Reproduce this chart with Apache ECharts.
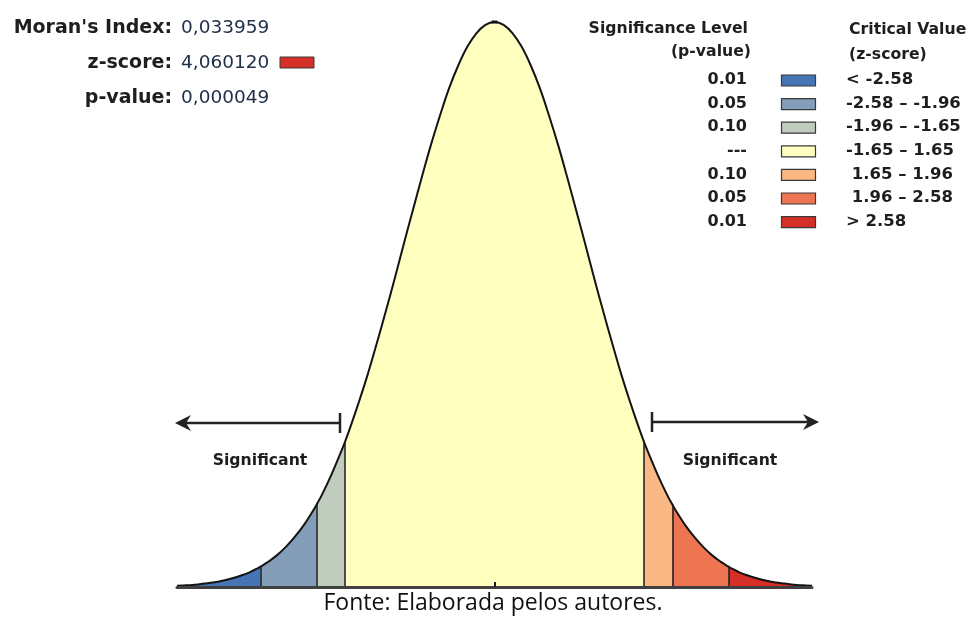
<!DOCTYPE html>
<html><head><meta charset="utf-8">
<script src="https://cdn.jsdelivr.net/npm/echarts@6/dist/echarts.min.js"></script>
<style>html,body{margin:0;padding:0;background:#fff}#c{width:971px;height:617px}</style>
</head><body><div id="c"></div>
<script>
// z positions along the curve and curve heights (relative to peak)
const zValues = [-3.5,-3.4,-3.3,-3.2,-3.1,-3.0,-2.9,-2.8,-2.7,-2.6,-2.5,-2.4,-2.3,-2.2,-2.1,-2.0,-1.9,-1.8,-1.7,-1.6,-1.5,-1.4,-1.3,-1.2,-1.1,-1.0,-0.9,-0.8,-0.7,-0.6,-0.5,-0.4,-0.3,-0.2,-0.1,0,0.1,0.2,0.3,0.4,0.5,0.6,0.7,0.8,0.9,1.0,1.1,1.2,1.3,1.4,1.5,1.6,1.7,1.8,1.9,2.0,2.1,2.2,2.3,2.4,2.5,2.6,2.7,2.8,2.9,3.0,3.1,3.2,3.3,3.4,3.5];
const heights = [0.002,0.003,0.004,0.006,0.008,0.011,0.015,0.020,0.026,0.034,0.044,0.056,0.071,0.089,0.110,0.135,0.164,0.198,0.236,0.278,0.325,0.375,0.430,0.487,0.546,0.607,0.667,0.726,0.783,0.835,0.883,0.923,0.956,0.980,0.995,1.000,0.995,0.980,0.956,0.923,0.883,0.835,0.783,0.726,0.667,0.607,0.546,0.487,0.430,0.375,0.325,0.278,0.236,0.198,0.164,0.135,0.110,0.089,0.071,0.056,0.044,0.034,0.026,0.020,0.015,0.011,0.008,0.006,0.004,0.003,0.002];
const boundaries = [-2.58,-1.96,-1.65,1.65,1.96,2.58];
const boundaryHeights = [0.036,0.146,0.256,0.256,0.146,0.036];
const segmentColors = ['#4575b5','#849eba','#c0ccbe','#ffffbf','#fab984','#ed7551','#d62f27'];
const pLevels = ['0.01','0.05','0.10','---','0.10','0.05','0.01'];
const zRanges = ['< -2.58','-2.58 \u2013 -1.96','-1.96 \u2013 -1.65','-1.65 \u2013 1.65',' 1.65 \u2013 1.96',' 1.96 \u2013 2.58','> 2.58'];
const statLabels = ["Moran's Index:", 'z-score:', 'p-value:'];
const statValues = ['0,033959', '4,060120', '0,000049'];
const zScoreColor = '#d62f27';

const chart = echarts.init(document.getElementById('c'));

const allPts = zValues.map((z, i) => [z, heights[i]])
  .concat(boundaries.map((z, i) => [z, boundaryHeights[i]]))
  .sort((a, b) => a[0] - b[0]);
const edges = [zValues[0]].concat(boundaries, [zValues[zValues.length - 1]]);
const series = [];
for (let s = 0; s < edges.length - 1; s++) {
  const a = edges[s], b = edges[s + 1];
  const pts = allPts.filter(p => p[0] >= a - 1e-9 && p[0] <= b + 1e-9);
  series.push({
    type: 'line', data: pts, symbol: 'none', silent: true, z: 2, smooth: 0.4,
    lineStyle: { width: 0 },
    areaStyle: { color: segmentColors[s], opacity: 1 }
  });
}
series.push({
  type: 'line', data: [], symbol: 'none', silent: true, z: 3,
  markLine: {
    silent: true, symbol: 'none', label: { show: false },
    lineStyle: { color: '#1a1a1a', width: 1.5, type: 'solid' },
    data: boundaries.map((z, i) => [{ coord: [z, 0] }, { coord: [z, boundaryHeights[i]] }])
  }
});
series.push({
  type: 'line', data: allPts, symbol: 'none', silent: true, z: 4, smooth: 0.4,
  lineStyle: { color: '#141414', width: 2 },
  markPoint: {
    silent: true, symbol: 'rect', symbolSize: [6, 3], symbolOffset: [0, 0],
    itemStyle: { color: '#141414' }, label: { show: false },
    data: [{ coord: [0, 1] }]
  }
});

const graphic = [];
const tFont = (w, s) => w + ' ' + s + 'px "DejaVu Sans", Verdana, sans-serif';
const statY = [28, 63, 98];
statLabels.forEach((t, i) => {
  graphic.push({ type: 'text', style: { text: t, x: 172, y: statY[i], textAlign: 'right', textVerticalAlign: 'middle', font: tFont('bold', 19), fill: '#1e1e1e' } });
  graphic.push({ type: 'text', style: { text: statValues[i], x: 181, y: statY[i], textAlign: 'left', textVerticalAlign: 'middle', font: tFont('normal', 18.5), fill: '#22304a' } });
});
graphic.push({ type: 'rect', shape: { x: 280, y: 57, width: 34, height: 11 }, style: { fill: zScoreColor, stroke: '#3a3a3a', lineWidth: 1 } });

// legend
const lf = tFont('bold', 15.7);
graphic.push({ type: 'text', style: { text: 'Significance Level', x: 748, y: 29, textAlign: 'right', textVerticalAlign: 'middle', font: lf, fill: '#1e1e1e' } });
graphic.push({ type: 'text', style: { text: '(p-value)', x: 751, y: 52, textAlign: 'right', textVerticalAlign: 'middle', font: lf, fill: '#1e1e1e' } });
graphic.push({ type: 'text', style: { text: 'Critical Value', x: 849, y: 30, textAlign: 'left', textVerticalAlign: 'middle', font: lf, fill: '#1e1e1e' } });
graphic.push({ type: 'text', style: { text: '(z-score)', x: 849, y: 55, textAlign: 'left', textVerticalAlign: 'middle', font: lf, fill: '#1e1e1e' } });
pLevels.forEach((p, i) => {
  const y = 80 + 23.6 * i;
  graphic.push({ type: 'text', style: { text: p, x: 747, y: y, textAlign: 'right', textVerticalAlign: 'middle', font: tFont('bold', 16), fill: '#1e1e1e' } });
  graphic.push({ type: 'rect', shape: { x: 781.5, y: y - 5, width: 34, height: 11 }, style: { fill: segmentColors[i], stroke: '#3a3a3a', lineWidth: 1.2 } });
  graphic.push({ type: 'text', style: { text: zRanges[i], x: 846, y: y, textAlign: 'left', textVerticalAlign: 'middle', font: tFont('bold', 16.5), fill: '#1e1e1e' } });
});

// region labels
graphic.push({ type: 'text', style: { text: 'Significant', x: 260, y: 461, textAlign: 'center', textVerticalAlign: 'middle', font: lf, fill: '#1e1e1e' } });
graphic.push({ type: 'text', style: { text: 'Significant', x: 730, y: 461, textAlign: 'center', textVerticalAlign: 'middle', font: lf, fill: '#1e1e1e' } });
graphic.push({ type: 'text', style: { text: '(Random)', x: 499, y: 425, textAlign: 'center', textVerticalAlign: 'middle', font: tFont('bold', 16), fill: '#1e1e1e' } });

// arrows
const aCol = '#222';
graphic.push({ type: 'line', shape: { x1: 340, y1: 423, x2: 183, y2: 423 }, style: { stroke: aCol, lineWidth: 2.5 } });
graphic.push({ type: 'line', shape: { x1: 340, y1: 413, x2: 340, y2: 433 }, style: { stroke: aCol, lineWidth: 2.5 } });
graphic.push({ type: 'polygon', shape: { points: [[175, 423], [191, 415], [186, 423], [191, 431]] }, style: { fill: aCol } });
graphic.push({ type: 'line', shape: { x1: 652, y1: 422, x2: 811, y2: 422 }, style: { stroke: aCol, lineWidth: 2.5 } });
graphic.push({ type: 'line', shape: { x1: 652, y1: 412, x2: 652, y2: 432 }, style: { stroke: aCol, lineWidth: 2.5 } });
graphic.push({ type: 'polygon', shape: { points: [[819, 422], [803, 414], [808, 422], [803, 430]] }, style: { fill: aCol } });

// caption
graphic.push({ type: 'text', style: { text: 'Fonte: Elaborada pelos autores.', x: 493, y: 603, textAlign: 'center', textVerticalAlign: 'middle', font: '23px "Open Sans", "Noto Sans", sans-serif', fill: '#111' } });

chart.setOption({
  animation: false,
  grid: { left: 177, right: 159, top: 22, bottom: 30 },
  xAxis: {
    type: 'value', min: -3.5, max: 3.5, z: 6,
    axisLine: { show: true, onZero: false, lineStyle: { color: '#404040', width: 3 } },
    axisTick: { show: true, customValues: [0], inside: true, length: 5, lineStyle: { color: '#1a1a1a', width: 2 } },
    axisLabel: { show: false }, splitLine: { show: false }
  },
  yAxis: { type: 'value', min: 0, max: 1, show: false },
  series: series,
  graphic: graphic
});
</script>
</body></html>
